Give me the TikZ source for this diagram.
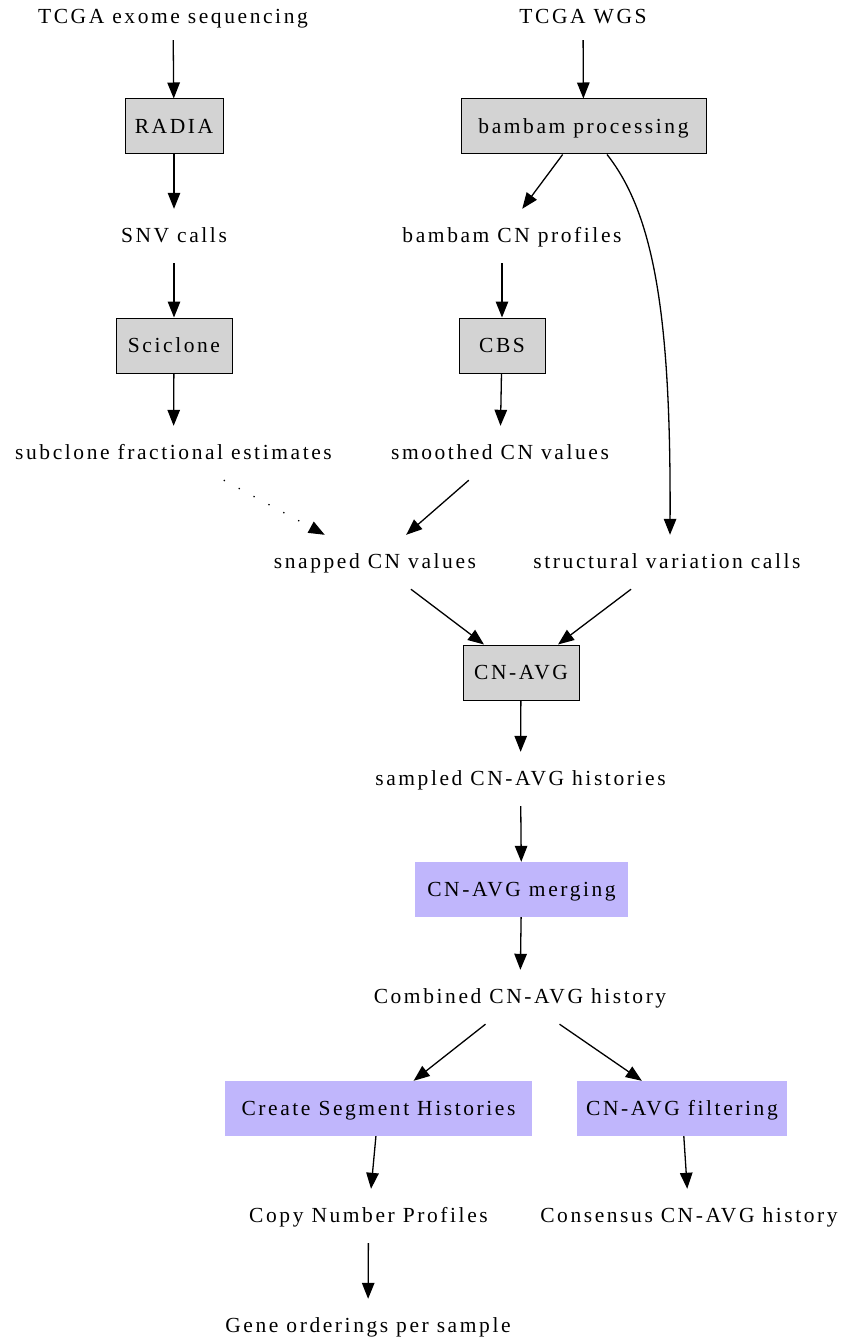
\documentclass[tikz,border=0pt]{standalone}
\usepackage{fontspec}
\setmainfont{Liberation Serif}[LetterSpace=12]
\usetikzlibrary{arrows.meta}
\definecolor{boxgray}{RGB}{211,211,211}
\definecolor{boxpurple}{RGB}{192,182,252}
\begin{document}
\begin{tikzpicture}[x=1pt,y=-1pt,
  every node/.style={font=\fontsize{21.5}{25}\selectfont, inner sep=0pt, text height=17.6pt, text depth=4pt},
  txt/.style={minimum height=54pt, inner xsep=4pt},
  graybox/.style={draw=black, line width=1pt, fill=boxgray, minimum height=55pt},
  purplebox/.style={fill=boxpurple, minimum height=55pt},
  edge/.style={-{Triangle[length=16pt,width=12.5pt]}, line width=1.3pt},
]
\useasboundingbox (0,0) rectangle (842,1340);

\node[txt, minimum height=46pt] (exome) at (173,17) {TCGA exome sequencing};
\node[txt, minimum height=46pt] (wgs) at (583,17) {TCGA WGS};
\node[graybox, minimum width=98pt] (radia) at (174,126.5) {RADIA};
\node[graybox, minimum width=245pt] (bambam) at (583.5,126.5) {bambam processing};
\node[txt] (snv) at (174,236) {SNV calls};
\node[txt] (bcn) at (502,236) {\hspace*{20pt}bambam CN profiles};
\node[graybox, minimum width=116pt] (sciclone) at (174,345.5) {Sciclone};
\node[graybox, minimum width=86pt] (cbs) at (502,345.5) {CBS};
\node[txt] (subclone) at (173.5,453) {subclone fractional estimates};
\node[txt] (smoothed) at (500,453) {smoothed CN values};
\node[txt] (snapped) at (375,562) {snapped CN values};
\node[txt] (sv) at (667,562) {structural variation calls};
\node[graybox, minimum width=116pt] (cnavg) at (521,672.5) {CN-AVG};
\node[txt] (sampled) at (520.5,779) {sampled CN-AVG histories};
\node[purplebox, minimum width=213pt] (merge) at (521.5,889.5) {CN-AVG merging};
\node[txt] (combined) at (520,997) {Combined CN-AVG history};
\node[purplebox, minimum width=307pt] (segh) at (378.5,1108.5) {Create Segment Histories};
\node[purplebox, minimum width=210pt] (filt) at (682,1108.5) {CN-AVG filtering};
\node[txt] (copyn) at (368.5,1216) {Copy Number Profiles};
\node[txt] (consensus) at (689,1216) {Consensus CN-AVG history};
\node[txt] (gene) at (368,1326) {Gene orderings per sample};

\draw[edge] (exome) -- (radia);
\draw[edge] (radia) -- (snv);
\draw[edge] (snv) -- (sciclone);
\draw[edge] (sciclone) -- (subclone);
\draw[edge] (wgs) -- (bambam);
\draw[edge] (bambam) -- (bcn);
\draw[edge] ([xshift=23.5pt]bambam.south) .. controls (655,215) and (671,320) .. ([xshift=3pt]sv.north);
\draw[edge] (bcn) -- (cbs);
\draw[edge] (cbs) -- (smoothed);
\draw[edge, dash pattern=on 1.3pt off 15.6pt] (subclone) -- (snapped);
\draw[edge] (smoothed) -- (snapped);
\draw[edge] (snapped) -- (cnavg);
\draw[edge] (sv) -- (cnavg);
\draw[edge] (cnavg) -- (sampled);
\draw[edge] (sampled) -- (merge);
\draw[edge] (merge) -- (combined);
\draw[edge] (combined) -- (segh);
\draw[edge] (combined) -- (filt);
\draw[edge] (segh) -- (copyn);
\draw[edge] (filt) -- (consensus);
\draw[edge] (copyn) -- (gene);
\end{tikzpicture}
\end{document}
